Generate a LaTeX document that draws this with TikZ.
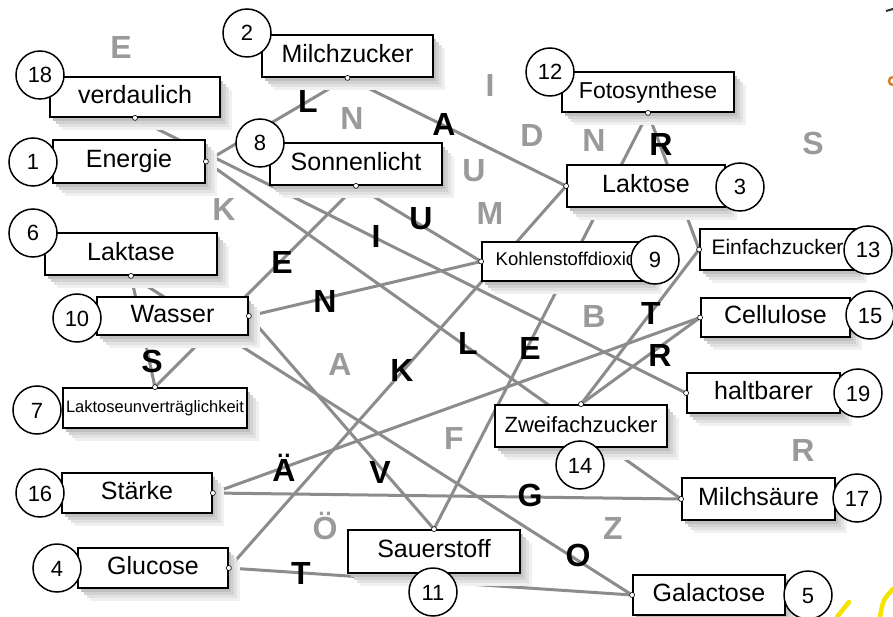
\documentclass[tikz,border=0pt]{standalone}
\usepackage{fontspec}
\setmainfont{Liberation Sans}
\pgfdeclarelayer{back}
\pgfdeclarelayer{bg}
\pgfsetlayers{back,bg,main}
\definecolor{linegray}{HTML}{8C8C8C}
\definecolor{lettergray}{HTML}{9A9A9A}
\definecolor{hilite}{HTML}{F5E400}
\definecolor{sh1}{HTML}{F0F0F0}
\definecolor{sh2}{HTML}{E2E2E2}
\definecolor{sh3}{HTML}{D2D2D2}
\definecolor{sh4}{HTML}{C0C0C0}
\newcommand\myshadow[4]{%
  \fill[sh1] (#1+12,#2+13) rectangle (#3+12,#4+13);
  \fill[sh2] (#1+9,#2+10) rectangle (#3+9,#4+10);
  \fill[sh3] (#1+6,#2+7) rectangle (#3+6,#4+7);
  \fill[sh4] (#1+3,#2+4) rectangle (#3+3,#4+4);}
\tikzset{
  box/.style={draw=black, line width=1.8pt, fill=white, rectangle, inner sep=0pt,
    font=\fontsize{25}{28}\selectfont, text height=17.5pt, text depth=5pt},
  num/.style={circle, draw=black, line width=1.5pt, fill=white, minimum size=48pt,
    inner sep=0pt, font=\fontsize{22}{24}\selectfont, text height=16pt, text depth=0pt},
  adot/.style={circle, draw=black, fill=white, line width=0.6pt, inner sep=0pt, minimum size=5pt},
  conn/.style={draw=linegray, line width=3pt},
  blk/.style={inner sep=0pt, font=\fontsize{32}{34}\selectfont\bfseries, text=black, text height=23pt, text depth=0pt},
  gry/.style={inner sep=0pt, font=\fontsize{32}{34}\selectfont\bfseries, text=lettergray, text height=23pt, text depth=0pt}
}
\begin{document}
\begin{tikzpicture}[x=1pt,y=-1pt]
\begin{pgfonlayer}{back}
\fill[white] (0,0) rectangle (893,617);
\end{pgfonlayer}
\useasboundingbox (0,0) rectangle (893,617);

% soft shadows of the boxes
\myshadow{50}{77}{220}{117}
\myshadow{262}{35}{433}{77}
\myshadow{53}{140}{205}{183}
\myshadow{270}{143}{442}{185}
\myshadow{562}{72}{734}{112}
\myshadow{567}{165}{725}{207}
\myshadow{45}{233}{217}{275}
\myshadow{97}{297}{248}{335}
\myshadow{63}{388}{247}{428}
\myshadow{62}{473}{212}{513}
\myshadow{78}{548}{228}{588}
\myshadow{482}{242}{650}{281}
\myshadow{700}{229}{855}{270}
\myshadow{701}{298}{850}{337}
\myshadow{687}{373}{840}{413}
\myshadow{495}{405}{667}{447}
\myshadow{682}{478}{835}{520}
\myshadow{348}{530}{520}{573}
\myshadow{633}{575}{785}{615}

% boxes
\node[box, minimum width=170pt, minimum height=40pt] (verd) at (135,97) {verdaulich};
\node[box, minimum width=171pt, minimum height=42pt] (mz) at (347.5,56) {Milchzucker};
\node[box, minimum width=152pt, minimum height=43pt] (ene) at (129,161.5) {Energie};
\node[box, minimum width=172pt, minimum height=42pt] (son) at (356,164) {Sonnenlicht};
\node[box, minimum width=172pt, minimum height=40pt, font=\fontsize{23}{26}\selectfont] (foto) at (648,92) {Fotosynthese};
\node[box, minimum width=158pt, minimum height=42pt] (lakt) at (646,186) {Laktose};
\node[box, minimum width=172pt, minimum height=42pt] (laks) at (131,254) {Laktase};
\node[box, minimum width=151pt, minimum height=38pt] (was) at (172.5,316) {Wasser};
\node[box, minimum width=184pt, minimum height=40pt, font=\fontsize{16.5}{18}\selectfont, text height=12pt, text depth=3pt] (lakun) at (155,408) {Laktoseunverträglichkeit};
\node[box, minimum width=150pt, minimum height=40pt] (sta) at (137,493) {Stärke};
\node[box, minimum width=150pt, minimum height=40pt] (glu) at (153,568) {Glucose};
\node[box, minimum width=168pt, minimum height=39pt, font=\fontsize{18.5}{20}\selectfont, text height=13pt, text depth=4pt] (kohl) at (566,261.5) {Kohlenstoffdioxid\hspace{20pt}};
\node[box, minimum width=155pt, minimum height=41pt, font=\fontsize{21}{24}\selectfont, text height=15pt, text depth=4pt] (einf) at (777.5,249.5) {Einfachzucker};
\node[box, minimum width=149pt, minimum height=39pt] (cel) at (775.5,317.5) {Cellulose};
\node[box, minimum width=153pt, minimum height=40pt] (hal) at (763.5,393) {haltbarer};
\node[box, minimum width=172pt, minimum height=42pt, font=\fontsize{22}{26}\selectfont] (zwe) at (581,426) {Zweifachzucker};
\node[box, minimum width=153pt, minimum height=42pt] (mil) at (758.5,499) {Milchsäure};
\node[box, minimum width=172pt, minimum height=43pt] (sau) at (434,551.5) {Sauerstoff};
\node[box, minimum width=152pt, minimum height=40pt] (gal) at (709,595) {Galactose};

% number circles
\node[num] (n18) at (40,75) {18};
\node[num] (n2) at (247,33) {2};
\node[num] (n1) at (33,162) {1};
\node[num] (n8) at (260,143) {8};
\node[num] (n12) at (550,72) {12};
\node[num] (n3) at (740,187) {3};
\node[num] (n6) at (33,233) {6};
\node[num] (n10) at (77,318) {10};
\node[num] (n9) at (655,260) {9};
\node[num] (n13) at (868,250) {13};
\node[num] (n15) at (870,315) {15};
\node[num] (n19) at (858,393) {19};
\node[num] (n7) at (37,410) {7};
\node[num] (n14) at (580,465) {14};
\node[num] (n16) at (40,493) {16};
\node[num] (n17) at (857,498) {17};
\node[num] (n11) at (433,592) {11};
\node[num] (n4) at (57,568) {4};
\node[num] (n5) at (808,595) {5};

% connectors
\begin{pgfonlayer}{bg}
\draw[conn] (mz.south) -- (ene.east);
\draw[conn] (mz.south) -- (lakt.west);
\draw[conn] (foto.south) -- (sau.north);
\draw[conn] (foto.south) -- (einf.west);
\draw[conn] (verd.south) -- (hal.west);
\draw[conn] (ene.east) -- (mil.west);
\draw[conn] (son.south) -- (kohl.west);
\draw[conn] (son.south) -- (lakun.north);
\draw[conn] (was.east) -- (kohl.west);
\draw[conn] (was.east) -- (sau.north);
\draw[conn] (laks.south) -- (lakun.north);
\draw[conn] (laks.south) -- (gal.west);
\draw[conn] (glu.east) -- (lakt.west);
\draw[conn] (glu.east) -- (gal.west);
\draw[conn] (sta.east) -- (cel.west);
\draw[conn] (sta.east) -- (mil.west);
\draw[conn] (zwe.north) -- (einf.west);
\draw[conn] (zwe.north) -- (cel.west);
\end{pgfonlayer}

% anchor dots
\node[adot] (a1) at (verd.south) {};
\node[adot] (a2) at (mz.south) {};
\node[adot] (a3) at (ene.east) {};
\node[adot] (a4) at (son.south) {};
\node[adot] (a5) at (foto.south) {};
\node[adot] (a6) at (lakt.west) {};
\node[adot] (a7) at (laks.south) {};
\node[adot] (a8) at (was.east) {};
\node[adot] (a9) at (lakun.north) {};
\node[adot] (a10) at (sta.east) {};
\node[adot] (a11) at (glu.east) {};
\node[adot] (a12) at (kohl.west) {};
\node[adot] (a13) at (einf.west) {};
\node[adot] (a14) at (cel.west) {};
\node[adot] (a15) at (hal.west) {};
\node[adot] (a16) at (zwe.north) {};
\node[adot] (a17) at (mil.west) {};
\node[adot] (a18) at (sau.north) {};
\node[adot] (a19) at (gal.west) {};

% black letters on connectors
\node[blk] (b1) at (308,101) {L};
\node[blk] (b2) at (444,124) {A};
\node[blk] (b3) at (661,144) {R};
\node[blk] (b4) at (421,218) {U};
\node[blk] (b5) at (376,236) {I};
\node[blk] (b6) at (282,262) {E};
\node[blk] (b7) at (325,301) {N};
\node[blk] (b8) at (152,361) {S};
\node[blk] (b9) at (402,370) {K};
\node[blk] (b10) at (468,343) {L};
\node[blk] (b11) at (530,348) {E};
\node[blk] (b12) at (651,313) {T};
\node[blk] (b13) at (660,355) {R};
\node[blk] (b14) at (284,470) {Ä};
\node[blk] (b15) at (380,472) {V};
\node[blk] (b16) at (530,495) {G};
\node[blk] (b17) at (578,555) {O};
\node[blk] (b18) at (301,573) {T};

% grey letters
\node[gry] (g1) at (121,47) {E};
\node[gry] (g2) at (352,118) {N};
\node[gry] (g3) at (490,85) {I};
\node[gry] (g4) at (532,135) {D};
\node[gry] (g5) at (594,140) {N};
\node[gry] (g6) at (813,143) {S};
\node[gry] (g7) at (474,170) {U};
\node[gry] (g8) at (490,213) {M};
\node[gry] (g9) at (224,209) {K};
\node[gry] (g10) at (594,316) {B};
\node[gry] (g11) at (340,364) {A};
\node[gry] (g12) at (454,438) {F};
\node[gry] (g13) at (325,528) {Ö};
\node[gry] (g14) at (613,528) {Z};
\node[gry] (g15) at (803,450) {R};

% marks at the right edge
\draw[black!80, line width=2pt] (886,11) -- (893,9);
\draw[brown!70!orange, line width=2.5pt] (893,77) arc (90:270:4pt);
\draw[hilite, line width=4.5pt, line cap=round] (837,617) -- (849,602);
\draw[hilite, line width=4.5pt, line cap=round] (880,617) .. controls (883,600) .. (893,589);
\end{tikzpicture}
\end{document}
